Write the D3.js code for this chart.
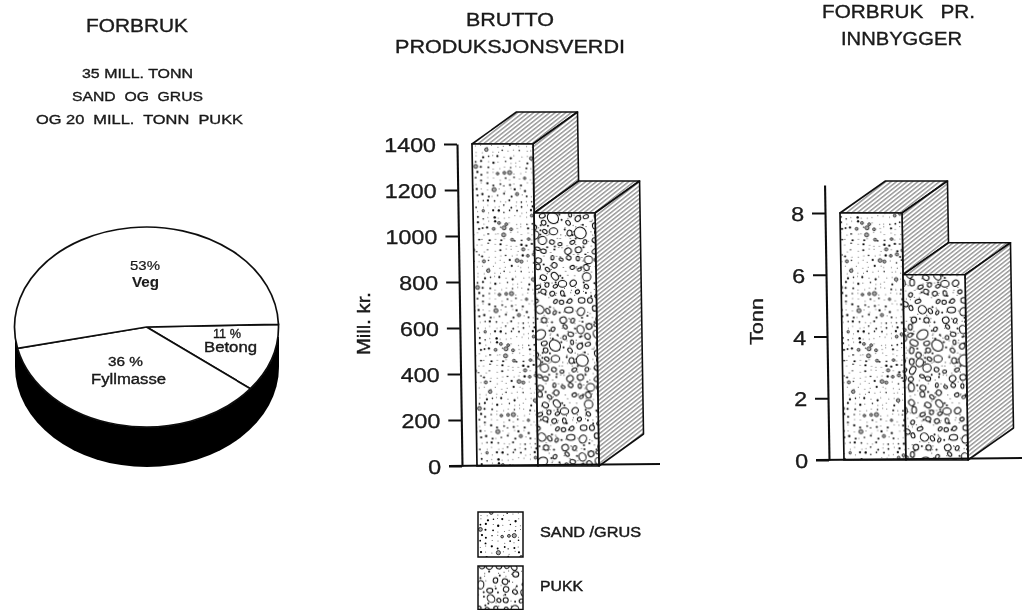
<!DOCTYPE html>
<html><head><meta charset="utf-8">
<script src="https://cdn.jsdelivr.net/npm/d3@7/dist/d3.min.js"></script>
<style>
html,body{margin:0;padding:0;background:#fff}
svg{display:block}
text{font-family:"Liberation Sans",Arial,sans-serif;fill:#1c1c1c;white-space:pre}
</style></head><body>
<script>
// ---- data ----
const categories = ["SAND / GRUS", "PUKK"];
const legendLabels = ["SAND /GRUS", "PUKK"];
const produksjonsverdi = [1400, 1100];
const produksjonTicks = [0, 200, 400, 600, 800, 1000, 1200, 1400];
const forbrukPerInnbygger = [8, 6];
const innbyggerTicks = [0, 2, 4, 6, 8];
const pieNames = ["Betong", "Fyllmasse", "Veg"];
const pieValues = [11, 36, 53];
const pieLabels = ["11 %", "36 %", "53%"];

const W = 1022, H = 610;
const svg = d3.select("body").append("svg").attr("width", W).attr("height", H);
const defs = svg.append("defs");
const blur = defs.append("filter").attr("id", "scan").attr("x", 0).attr("y", 0)
  .attr("width", 1).attr("height", 1).attr("filterUnits", "objectBoundingBox");
blur.append("feGaussianBlur").attr("stdDeviation", 0.45);
const root = svg.append("g").attr("filter", "url(#scan)");
root.append("rect").attr("width", W).attr("height", H).attr("fill", "#fff");

// ---- textures (fixed seed, jittered grid, decoration only) ----
const ink = "#111";
// small hash so that neighbouring grid cells are not correlated
function hash(a, b) {
  const s = Math.sin(a * 127.1 + b * 311.7) * 43758.5453;
  return s - Math.floor(s);
}
function hatchPattern() {
  const p = defs.append("pattern").attr("id", "hatch").attr("patternUnits", "userSpaceOnUse")
    .attr("width", 12).attr("height", 3.3).attr("patternTransform", "rotate(-38)");
  p.append("rect").attr("width", 12).attr("height", 3.3).attr("fill", "#fff");
  p.append("line").attr("x1", 0).attr("x2", 12).attr("y1", 1.6).attr("y2", 1.6)
    .attr("stroke", "#222").attr("stroke-width", 0.75);
}
function sandPattern() {
  const n = 22, cell = 5.5, S = n * cell;
  const p = defs.append("pattern").attr("id", "sand").attr("patternUnits", "userSpaceOnUse")
    .attr("width", S).attr("height", S);
  p.append("rect").attr("width", S).attr("height", S).attr("fill", "#fff");
  for (let i = 0; i < n; i++) for (let j = 0; j < n; j++) {
    const x = (i + 0.2 + 0.6 * hash(i, j)) * cell, y = (j + 0.2 + 0.6 * hash(j + 50, i + 9)) * cell;
    const kind = hash(i + 17, j + 31), r = hash(i + 3, j + 71);
    if (kind < 0.55) p.append("circle").attr("cx", x).attr("cy", y).attr("r", 0.5).attr("fill", "#444");
    else if (kind < 0.88) p.append("circle").attr("cx", x).attr("cy", y).attr("r", 0.7 + r * 0.5).attr("fill", "#000");
    else p.append("circle").attr("cx", x).attr("cy", y).attr("r", 1.2 + r * 0.9)
      .attr("fill", "#aaa").attr("stroke", "#111").attr("stroke-width", 0.8);
  }
}
function pukkPattern() {
  const n = 15, cell = 8.5, S = n * cell;
  const p = defs.append("pattern").attr("id", "pukk").attr("patternUnits", "userSpaceOnUse")
    .attr("width", S).attr("height", S);
  p.append("rect").attr("width", S).attr("height", S).attr("fill", "#fff");
  const stones = [];
  for (let i = 0; i < n; i++) for (let j = 0; j < n; j++) {
    const size = hash(i + 5, j + 13);
    const a = size > 0.93 ? 6 : size > 0.7 ? 4.2 : 2 + size * 2;
    const x = Math.min(S - a - 0.5, Math.max(a + 0.5, (i + 0.2 + 0.6 * hash(i + 90, j)) * cell));
    const y = Math.min(S - a - 0.5, Math.max(a + 0.5, (j + 0.2 + 0.6 * hash(j + 41, i + 77)) * cell));
    if (stones.some(c => Math.hypot(c.x - x, c.y - y) < c.a + a + 0.4)) continue;
    stones.push({x, y, a});
    p.append("ellipse").attr("rx", a).attr("ry", a * (0.62 + 0.38 * hash(i + 8, j + 8)))
      .attr("transform", `translate(${x},${y}) rotate(${hash(i + 200, j + 300) * 180})`)
      .attr("fill", "#fff").attr("stroke", "#000").attr("stroke-width", 1);
  }
  for (let i = 0; i < n * 2; i++) for (let j = 0; j < n * 2; j++) {
    if (hash(i + 400, j + 500) < 0.45) continue;
    const x = (i + hash(i + 61, j + 62)) * cell / 2, y = (j + hash(i + 63, j + 64)) * cell / 2;
    if (stones.some(c => Math.hypot(c.x - x, c.y - y) < c.a + 0.6)) continue;
    p.append("circle").attr("cx", x).attr("cy", y).attr("r", hash(i + 65, j + 66) < 0.25 ? 1 : 0.5).attr("fill", "#111");
  }
}
hatchPattern(); sandPattern(); pukkPattern();
const fills = ["url(#sand)", "url(#pukk)"];

// ---- text helper: the original lettering is wider than the fonts, so fit it ----
function label(x0, x1, base, str, size, opts = {}) {
  return root.append("text").attr("x", x0).attr("y", base).text(str)
    .attr("font-size", size).attr("font-weight", opts.weight || "normal")
    .attr("textLength", x1 - x0).attr("lengthAdjust", "spacingAndGlyphs")
    .attr("stroke", ink).attr("stroke-width", opts.stroke === undefined ? 0.35 : opts.stroke);
}

// ---- titles ----
label(86, 188, 32, "FORBRUK", 19);
label(82, 193, 78, "35 MILL. TONN", 13.5);
label(72, 203, 101, "SAND  OG  GRUS", 13.5);
label(36, 243, 124, "OG 20  MILL.  TONN  PUKK", 13.5);
label(466, 554, 26, "BRUTTO", 19);
label(395, 625, 53, "PRODUKSJONSVERDI", 19);
label(822, 975, 18, "FORBRUK   PR.", 19);
label(841, 962, 45, "INNBYGGER", 19);

// ---- pie ----
const cx = 146.5, cy = 327, rx = 132, ry = 100, depth = 40;
const pieG = root.append("g");
pieG.append("ellipse").attr("cx", cx + 0.5).attr("cy", cy + depth).attr("rx", rx).attr("ry", ry).attr("fill", "#000");
pieG.append("rect").attr("x", cx - rx + 0.5).attr("y", cy + 10).attr("width", 2 * rx).attr("height", depth - 10).attr("fill", "#000");
const pieLayout = d3.pie().sort(null).startAngle(88.5 * Math.PI / 180).endAngle((88.5 + 360) * Math.PI / 180);
const arc = d3.arc().innerRadius(0).outerRadius(rx);
pieG.append("g").attr("transform", `translate(${cx},${cy}) scale(1,${ry / rx})`)
  .selectAll("path").data(pieLayout(pieValues)).join("path")
  .attr("d", arc).attr("fill", "#fff").attr("stroke", ink).attr("stroke-width", 1.7)
  .attr("vector-effect", "non-scaling-stroke");
label(130, 160, 270, pieLabels[2], 13, {stroke: 0.2});
label(132, 159, 287, pieNames[2], 14, {weight: "bold", stroke: 0.1});
label(108, 143, 366, pieLabels[1], 13.5);
label(91, 166, 384, pieNames[1], 14);
label(213, 241, 338, pieLabels[0], 13.5);
label(204, 257, 352, pieNames[0], 14);

// ---- pseudo-3D bars ----
function barChart(cfg) {
  const {values, ticks, y0, yPerDomain, x0, x1, lean, d, domainTop, tick, xAxis, baseEnd, baseRise} = cfg;
  const y = d3.scaleLinear().domain([0, domainTop]).range([y0, y0 - yPerDomain * domainTop]);
  const x = d3.scaleBand().domain(categories).range([x0, x1]).padding(0);
  // the drawing leans to the left towards its top
  const g = root.append("g").attr("transform", `matrix(1,0,${lean},1,${-y0 * lean},0)`);
  const poly = d3.line();
  categories.forEach((c, i) => {
    const xl = x(c), xr = xl + x.bandwidth(), top = y(values[i]);
    const bottom = i + 1 < values.length ? y(values[i + 1]) : y0;
    g.append("path").attr("d", poly([[xl, top], [xr, top], [xr + d[0], top + d[1]], [xl + d[0], top + d[1]]]) + "Z")
      .attr("fill", "url(#hatch)").attr("stroke", ink).attr("stroke-width", 1.6).attr("stroke-linejoin", "round");
    g.append("path").attr("d", poly([[xr, top], [xr + d[0], top + d[1]], [xr + d[0], bottom + d[1]], [xr, bottom]]) + "Z")
      .attr("fill", "url(#hatch)").attr("stroke", ink).attr("stroke-width", 1.6).attr("stroke-linejoin", "round");
  });
  categories.forEach((c, i) => {
    g.append("rect").attr("x", x(c)).attr("y", y(values[i])).attr("width", x.bandwidth())
      .attr("height", y0 - y(values[i])).attr("fill", fills[i])
      .attr("stroke", ink).attr("stroke-width", 1.7);
  });
  const axis = d3.axisLeft(y).tickValues(ticks).tickFormat(d3.format("d")).tickSize(tick).tickSizeOuter(0).tickPadding(8);
  const ag = g.append("g").attr("transform", `translate(${xAxis},0)`).call(axis);
  ag.selectAll(".domain,.tick line").attr("stroke", ink).attr("stroke-width", 2.1);
  ag.selectAll(".tick text").attr("font-size", 20).attr("fill", ink).attr("font-family", '"Liberation Sans",Arial,sans-serif')
    .attr("dy", "0.38em").attr("stroke", ink).attr("stroke-width", 0.3)
    .attr("textLength", t => 13 * String(t).length).attr("lengthAdjust", "spacingAndGlyphs");
  root.append("line").attr("x1", xAxis - tick).attr("x2", baseEnd).attr("y1", y0).attr("y2", y0 - baseRise)
    .attr("stroke", ink).attr("stroke-width", 2);
}
barChart({values: produksjonsverdi, ticks: produksjonTicks, y0: 466, yPerDomain: 322 / 1400, x0: 477, x1: 599,
  lean: 5 / 322, d: [45, -32], domainTop: 1400, tick: 13, xAxis: 462, baseEnd: 660, baseRise: 2});
barChart({values: forbrukPerInnbygger, ticks: innbyggerTicks, y0: 460, yPerDomain: 247 / 8, x0: 844, x1: 968,
  lean: 4 / 247, d: [46, -32], domainTop: 8.91, tick: 13, xAxis: 829, baseEnd: 1022, baseRise: 2});

// axis titles
root.append("text").attr("transform", "translate(370,355) rotate(-90)").text("Mill. kr.")
  .attr("font-size", 18).attr("textLength", 63).attr("lengthAdjust", "spacingAndGlyphs")
  .attr("stroke", ink).attr("stroke-width", 0.4);
root.append("text").attr("transform", "translate(763,345) rotate(-90)").text("Tonn")
  .attr("font-size", 19).attr("textLength", 47).attr("lengthAdjust", "spacingAndGlyphs")
  .attr("stroke", ink).attr("stroke-width", 0.25);

// ---- legend ----
[[512, 540, 641, 537], [566, 540, 583, 591]].forEach(([boxY, tx0, tx1, base], i) => {
  root.append("rect").attr("x", 478).attr("y", boxY).attr("width", 45).attr("height", i ? 43.5 : 45)
    .attr("fill", fills[i]).attr("stroke", ink).attr("stroke-width", 1.5);
  label(tx0, tx1, base, legendLabels[i], 14, {stroke: 0.4});
});
</script>
</body></html>
